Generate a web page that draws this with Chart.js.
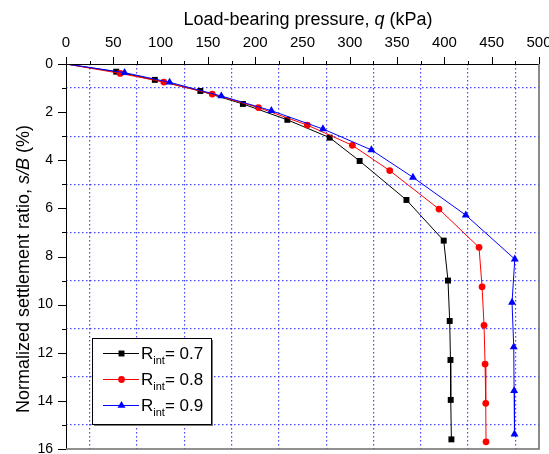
<!DOCTYPE html>
<html>
<head>
<meta charset="utf-8">
<script src="https://cdn.jsdelivr.net/npm/chart.js@4/dist/chart.umd.min.js"></script>
<style>
  html, body { margin: 0; padding: 0; background: #fff; overflow: hidden; }
  canvas { display: block; }
</style>
</head>
<body>
<canvas id="settlement" width="549" height="454"></canvas>
<script>
// load-bearing pressure q (kPa) and settlement ratio s/B (%) for each R_int
const qR07 = [0, 53.1, 93.9, 142.0, 187.0, 234.0, 278.7, 310.4, 359.9, 399.3, 403.8, 405.6, 406.4, 406.7, 407.4];
const sR07 = [0, 0.32, 0.66, 1.12, 1.66, 2.32, 3.06, 4.03, 5.65, 7.34, 9.00, 10.68, 12.30, 13.96, 15.60];
const qR08 = [0, 57.3, 103.4, 154.6, 203.4, 255.1, 302.7, 342.2, 394.3, 436.6, 439.8, 441.9, 443.0, 443.7, 444.0];
const sR08 = [0, 0.39, 0.75, 1.25, 1.81, 2.54, 3.38, 4.43, 6.03, 7.62, 9.26, 10.86, 12.47, 14.10, 15.70];
const qR09 = [0, 61.9, 109.5, 164.2, 217.1, 271.6, 322.8, 366.8, 422.6, 474.4, 471.5, 473.3, 473.7, 474.1];
const sR09 = [0, 0.36, 0.76, 1.33, 1.94, 2.70, 3.57, 4.71, 6.28, 8.11, 9.91, 11.76, 13.58, 15.38];

const rintLabels = ['0.7', '0.8', '0.9'];
const seriesColors = ['#000000', '#ff0000', '#0000ff'];
const seriesMarkers = ['rect', 'circle', 'triangle'];
const markerSizes = [4.2, 3.4, 4.6];

const xTitle = [['Load-bearing pressure, ', false], ['q', true], [' (kPa)', false]];
const yTitle = [['Normalized settlement ratio, ', false], ['s/B', true], [' (%)', false]];

const FONT = "'Liberation Sans', Arial, sans-serif";
const GRID_BLUE = 'rgba(40,40,255,0.85)';

function toXY(qs, ss) {
  return qs.map((q, i) => ({ x: q, y: ss[i] }));
}

function font(size, italic) {
  return (italic ? 'italic ' : '') + size + 'px ' + FONT;
}

function runsWidth(ctx, runs, size) {
  let w = 0;
  for (const [t, it] of runs) { ctx.font = font(size, it); w += ctx.measureText(t).width; }
  return w;
}

function drawRuns(ctx, runs, size, x, y) {
  let cx = x;
  for (const [t, it] of runs) {
    ctx.font = font(size, it);
    ctx.fillText(t, cx, y);
    cx += ctx.measureText(t).width;
  }
}

function marker(ctx, style, r, x, y, color) {
  ctx.fillStyle = color;
  ctx.beginPath();
  if (style === 'rect') {
    const s = r * Math.SQRT1_2;
    ctx.rect(x - s, y - s, 2 * s, 2 * s);
  } else if (style === 'circle') {
    ctx.arc(x, y, r, 0, Math.PI * 2);
  } else {
    ctx.moveTo(x, y - r);
    ctx.lineTo(x + r * 0.866, y + r * 0.5);
    ctx.lineTo(x - r * 0.866, y + r * 0.5);
    ctx.closePath();
  }
  ctx.fill();
}

// fixed axis boxes, no extra room for overhanging labels
function fixBox(w, h) {
  return s => {
    if (w) s.width = w;
    if (h) s.height = h;
    s.paddingLeft = s.paddingRight = s.paddingTop = s.paddingBottom = 0;
  };
}

const decorations = {
  id: 'decorations',
  afterDraw(chart) {
    const { ctx, chartArea: a, scales } = chart;
    const xs = scales.x, ys = scales.y;
    ctx.save();

    // frame: black left/top axes, grey right/bottom
    ctx.lineWidth = 1;
    ctx.strokeStyle = '#000';
    ctx.beginPath();
    ctx.moveTo(a.left + 0.5, a.bottom);
    ctx.lineTo(a.left + 0.5, a.top + 0.5);
    ctx.lineTo(a.right, a.top + 0.5);
    ctx.stroke();
    ctx.strokeStyle = '#6e6e6e';
    ctx.lineWidth = 1.6;
    ctx.beginPath();
    ctx.moveTo(a.right, a.top);
    ctx.lineTo(a.right, a.bottom);
    ctx.lineTo(a.left, a.bottom);
    ctx.stroke();

    // tick marks (major longer than minor)
    ctx.strokeStyle = '#000';
    ctx.lineWidth = 1;
    ctx.beginPath();
    for (let v = 0; v <= 500; v += 25) {
      const px = Math.round(xs.getPixelForValue(v)) + 0.5;
      const len = v % 50 === 0 ? 7 : 3;
      ctx.moveTo(px, a.top);
      ctx.lineTo(px, a.top - len);
    }
    for (let v = 0; v <= 16; v += 1) {
      const py = Math.round(ys.getPixelForValue(v)) + 0.5;
      const len = v % 2 === 0 ? 8 : 4;
      ctx.moveTo(a.left, py);
      ctx.lineTo(a.left - len, py);
    }
    ctx.stroke();

    // axis titles
    ctx.fillStyle = '#000';
    ctx.textBaseline = 'alphabetic';
    ctx.textAlign = 'left';
    const tw = runsWidth(ctx, xTitle, 18);
    drawRuns(ctx, xTitle, 18, 308 - tw / 2, 25);
    ctx.save();
    ctx.translate(29, 269);
    ctx.rotate(-Math.PI / 2);
    const yw = runsWidth(ctx, yTitle, 18);
    drawRuns(ctx, yTitle, 18, -yw / 2, 0);
    ctx.restore();

    // legend box
    const bx = 92, by = 338, bw = 119, bh = 86;
    ctx.fillStyle = '#7a7a7a';
    ctx.fillRect(bx + 2, by + 2, bw, bh);
    ctx.fillStyle = '#fff';
    ctx.fillRect(bx, by, bw, bh);
    ctx.strokeStyle = '#000';
    ctx.lineWidth = 1;
    ctx.strokeRect(bx + 0.5, by + 0.5, bw, bh);
    const rowY = [353, 379, 405];
    rintLabels.forEach((lab, i) => {
      const y = rowY[i];
      ctx.strokeStyle = seriesColors[i];
      ctx.lineWidth = 1.2;
      ctx.beginPath();
      ctx.moveTo(103, y + 0.5);
      ctx.lineTo(139, y + 0.5);
      ctx.stroke();
      marker(ctx, seriesMarkers[i], markerSizes[i], 121.5, y + 0.5, seriesColors[i]);
      ctx.fillStyle = '#000';
      let x = 141;
      ctx.font = font(17, false);
      ctx.fillText('R', x, y + 6);
      x += ctx.measureText('R').width;
      ctx.font = font(11, false);
      ctx.fillText('int', x, y + 11);
      x += ctx.measureText('int').width;
      ctx.font = font(17, false);
      ctx.fillText('= ' + lab, x, y + 6);
    });

    ctx.restore();
  }
};

const allQ = [qR07, qR08, qR09];
const allS = [sR07, sR08, sR09];

const datasets = rintLabels.map((lab, i) => ({
  label: 'R_int = ' + lab,
  data: toXY(allQ[i], allS[i]),
  borderColor: seriesColors[i],
  backgroundColor: seriesColors[i],
  borderWidth: 1,
  pointStyle: seriesMarkers[i],
  pointRadius: c => (c.dataIndex === 0 ? 0 : markerSizes[i]),
  pointBorderWidth: 0,
  tension: 0,
  order: 3 - i
}));

new Chart(document.getElementById('settlement'), {
  type: 'line',
  data: { datasets },
  options: {
    responsive: false,
    animation: false,
    devicePixelRatio: 1,
    layout: { padding: { top: 0, left: 0, right: 10, bottom: 5 } },
    plugins: { legend: { display: false }, tooltip: { enabled: false } },
    scales: {
      x: {
        type: 'linear',
        position: 'top',
        min: 0,
        max: 500,
        afterFit: fixBox(0, 64),
        ticks: {
          stepSize: 25,
          autoSkip: false,
          maxRotation: 0,
          padding: 12,
          color: '#000',
          font: { family: FONT, size: 15 },
          callback: v => (v % 50 === 0 ? v : '')
        },
        grid: {
          drawTicks: false,
          lineWidth: 1.2,
          color: c => (c.tick && c.tick.value % 50 !== 0 ? GRID_BLUE : 'transparent')
        },
        border: { display: false, dash: [1.5, 2.5] }
      },
      y: {
        type: 'linear',
        reverse: true,
        min: 0,
        max: 16,
        afterFit: fixBox(66, 0),
        ticks: {
          stepSize: 1,
          autoSkip: false,
          padding: 13,
          color: '#000',
          font: { family: FONT, size: 14 },
          callback: v => (v % 2 === 0 ? v : '')
        },
        grid: {
          drawTicks: false,
          lineWidth: 1.2,
          color: c => (c.tick && c.tick.value % 2 !== 0 ? GRID_BLUE : 'transparent')
        },
        border: { display: false, dash: [1.5, 2.5] }
      }
    }
  },
  plugins: [decorations]
});
</script>
</body>
</html>
